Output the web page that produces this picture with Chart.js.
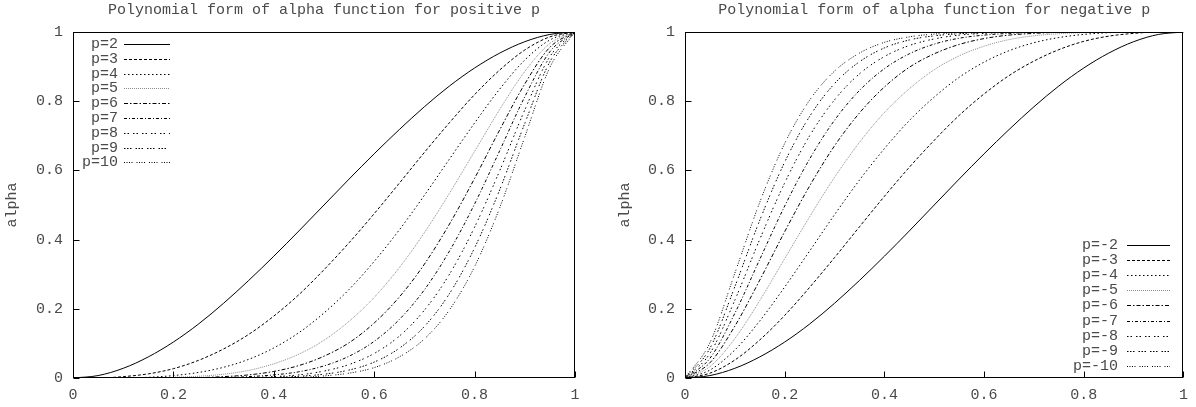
<!DOCTYPE html>
<html><head><meta charset="utf-8">
<script src="https://cdn.jsdelivr.net/npm/chart.js@4.4.1/dist/chart.umd.min.js"></script>
<style>
html,body{margin:0;padding:0;background:#fff;}
#wrap{position:relative;width:1196px;height:407px;overflow:hidden;}
canvas{position:absolute;top:0;}
</style></head><body>
<div id="wrap"><canvas id="c1" width="598" height="407" style="left:0"></canvas><canvas id="c2" width="598" height="407" style="left:598px"></canvas></div>
<script>
// ---------- data ----------
const xValues = [0,0.05,0.1,0.15,0.2,0.25,0.3,0.35,0.4,0.45,0.5,0.55,0.6,0.65,0.7,0.75,0.8,0.85,0.9,0.95,1];
const xTickLabels = ['0','0.2','0.4','0.6','0.8','1'];
const yTickLabels = ['0','0.2','0.4','0.6','0.8','1'];
const titleLeft = 'Polynomial form of alpha function for positive p';
const titleRight = 'Polynomial form of alpha function for negative p';
const yAxisLabel = 'alpha';
const posLabels = ['p=2','p=3','p=4','p=5','p=6','p=7','p=8','p=9','p=10'];
const negLabels = ['p=-2','p=-3','p=-4','p=-5','p=-6','p=-7','p=-8','p=-9','p=-10'];

const pos2  = [0,0.007,0.028,0.061,0.104,0.156,0.216,0.282,0.352,0.425,0.5,0.575,0.648,0.718,0.784,0.844,0.896,0.939,0.972,0.993,1];
const pos3  = [0,0,0.004,0.012,0.027,0.051,0.084,0.126,0.179,0.241,0.313,0.391,0.475,0.563,0.652,0.738,0.819,0.890,0.948,0.986,1];
const pos4  = [0,0,0,0.002,0.007,0.016,0.031,0.054,0.087,0.131,0.188,0.256,0.337,0.428,0.528,0.633,0.737,0.835,0.919,0.977,1];
const pos5  = [0,0,0,0,0.002,0.005,0.011,0.022,0.041,0.069,0.109,0.164,0.233,0.319,0.420,0.534,0.655,0.776,0.886,0.967,1];
const pos6  = [0,0,0,0,0,0.001,0.004,0.009,0.019,0.036,0.063,0.102,0.159,0.234,0.329,0.445,0.577,0.717,0.850,0.956,1];
const pos7  = [0,0,0,0,0,0,0.001,0.004,0.009,0.018,0.035,0.063,0.106,0.169,0.255,0.367,0.503,0.657,0.813,0.943,1];
const pos8  = [0,0,0,0,0,0,0,0.001,0.004,0.009,0.020,0.039,0.071,0.121,0.196,0.300,0.436,0.599,0.775,0.929,1];
const pos9  = [0,0,0,0,0,0,0,0.001,0.002,0.005,0.011,0.023,0.046,0.086,0.149,0.244,0.376,0.544,0.736,0.914,1];
const pos10 = [0,0,0,0,0,0,0,0,0.001,0.002,0.006,0.014,0.030,0.061,0.113,0.197,0.322,0.492,0.697,0.898,1];

const neg2  = [0,0.007,0.028,0.061,0.104,0.156,0.216,0.282,0.352,0.425,0.5,0.575,0.648,0.718,0.784,0.844,0.896,0.939,0.972,0.993,1];
const neg3  = [0,0.014,0.052,0.110,0.181,0.262,0.348,0.437,0.525,0.609,0.687,0.759,0.821,0.874,0.916,0.949,0.973,0.988,0.996,1,1];
const neg4  = [0,0.023,0.081,0.165,0.263,0.367,0.472,0.572,0.663,0.744,0.812,0.869,0.913,0.946,0.969,0.984,0.993,0.998,1,1,1];
const neg5  = [0,0.033,0.114,0.224,0.345,0.466,0.580,0.681,0.767,0.836,0.891,0.931,0.959,0.978,0.989,0.995,0.998,1,1,1,1];
const neg6  = [0,0.044,0.150,0.283,0.423,0.555,0.671,0.766,0.841,0.898,0.937,0.964,0.981,0.991,0.996,0.999,1,1,1,1,1];
const neg7  = [0,0.057,0.187,0.343,0.497,0.633,0.745,0.831,0.894,0.937,0.965,0.982,0.991,0.996,0.999,1,1,1,1,1,1];
const neg8  = [0,0.071,0.225,0.401,0.564,0.700,0.804,0.879,0.929,0.961,0.980,0.991,0.996,0.999,1,1,1,1,1,1,1];
const neg9  = [0,0.086,0.264,0.456,0.624,0.756,0.851,0.914,0.954,0.977,0.989,0.995,0.998,0.999,1,1,1,1,1,1,1];
const neg10 = [0,0.102,0.303,0.508,0.678,0.803,0.887,0.939,0.970,0.986,0.994,0.998,0.999,1,1,1,1,1,1,1,1];

const posSeries = [pos2,pos3,pos4,pos5,pos6,pos7,pos8,pos9,pos10];
const negSeries = [neg2,neg3,neg4,neg5,neg6,neg7,neg8,neg9,neg10];

// ---------- styles ----------
const FONT = "'Liberation Mono','DejaVu Sans Mono',monospace";
const TXT = '#4a4a4a';
const lineStyles = [
  {color:'#000', dash:[]},
  {color:'#000', dash:[3,2]},
  {color:'#000', dash:[1.5,2.5]},
  {color:'#8a8a8a', dash:[1,1]},
  {color:'#000', dash:[4,2,1.5,2]},
  {color:'#000', dash:[3,2,1,2]},
  {color:'#000', dash:[1.5,2,1.5,4]},
  {color:'#000', dash:[1.5,1.5,1.5,1.5,1.5,4]},
  {color:'#000', dash:[1,1.5,1,1.5,1,1.5,1,4]}
];

function makeDatasets(labels, series){
  return series.map((s,i)=>({
    label: labels[i],
    data: xValues.map((x,j)=>({x:x, y:s[j]})),
    borderColor: lineStyles[i].color,
    borderDash: lineStyles[i].dash,
    borderWidth: 1,
    pointRadius: 0,
    fill: false,
    cubicInterpolationMode: 'monotone'
  }));
}

const decorPlugin = {
  id: 'decor',
  afterDatasetsDraw(chart, args, o){
    const ctx = chart.ctx, a = chart.chartArea, xs = chart.scales.x, ys = chart.scales.y;
    ctx.save();
    ctx.setLineDash([]);
    ctx.strokeStyle = '#000'; ctx.lineWidth = 1;
    const L = Math.round(a.left)+0.5, R = Math.round(a.right)-0.5, T = Math.round(a.top)+0.5, B = Math.round(a.bottom)-0.5;
    ctx.strokeRect(L, T, R-L, B-T);
    ctx.beginPath();
    xs.ticks.forEach(t=>{ const px = Math.round(xs.getPixelForValue(t.value))+0.5; ctx.moveTo(px,B); ctx.lineTo(px,B-6); });
    ys.ticks.forEach(t=>{ const py = Math.round(ys.getPixelForValue(t.value))+0.5; ctx.moveTo(L,py); ctx.lineTo(L+6,py); });
    ctx.stroke();
    ctx.font = '15px ' + FONT; ctx.fillStyle = TXT;
    ctx.textAlign = 'center'; ctx.textBaseline = 'middle';
    ctx.fillText(o.title, (a.left+a.right)/2, 10);
    const ds = chart.data.datasets;
    ds.forEach((d,i)=>{
      const y = Math.round(o.legY + i*o.legDy) + 0.5;
      ctx.textAlign = 'right'; ctx.fillStyle = TXT;
      ctx.fillText(d.label, o.legTextRight, y);
      ctx.strokeStyle = d.borderColor; ctx.setLineDash(d.borderDash);
      ctx.beginPath(); ctx.moveTo(o.legX1, y); ctx.lineTo(o.legX2, y); ctx.stroke();
    });
    ctx.restore();
  }
};

function makeChart(id, labels, series, yTitlePad, padRight, yWidth, decor){
  return new Chart(document.getElementById(id), {
    type: 'line',
    data: { datasets: makeDatasets(labels, series) },
    options: {
      responsive: false, animation: false, devicePixelRatio: 1,
      layout: { padding: {left:0, top:32, right:padRight, bottom:0} },
      plugins: { legend:{display:false}, tooltip:{enabled:false}, title:{display:false}, decor: decor },
      scales: {
        x: {
          type:'linear', min:0, max:1,
          grid:{display:false, drawTicks:false}, border:{display:false},
          ticks:{stepSize:0.2, padding:8, color:TXT, font:{family:FONT,size:15}, maxRotation:0,
                 callback:(v,i)=>xTickLabels[i]},
          afterFit:(s)=>{ s.height = 29; }
        },
        y: {
          type:'linear', min:0, max:1,
          grid:{display:false, drawTicks:false}, border:{display:false},
          ticks:{stepSize:0.2, padding:10, color:TXT, font:{family:FONT,size:15},
                 callback:(v,i)=>yTickLabels[i]},
          title:{display:true, text:yAxisLabel, color:TXT, font:{family:FONT,size:15}, padding:{top:yTitlePad,bottom:0}},
          afterFit:(s)=>{ s.width = yWidth; }
        }
      }
    },
    plugins: [decorPlugin]
  });
}

makeChart('c1', posLabels, posSeries, 3, 23, 73,
  {title:titleLeft, legY:44, legDy:14.8, legTextRight:118, legX1:124, legX2:170});
makeChart('c2', negLabels, negSeries, 18, 10, 87,
  {title:titleRight, legY:245, legDy:15.1, legTextRight:520, legX1:529, legX2:572});
</script>
</body></html>
